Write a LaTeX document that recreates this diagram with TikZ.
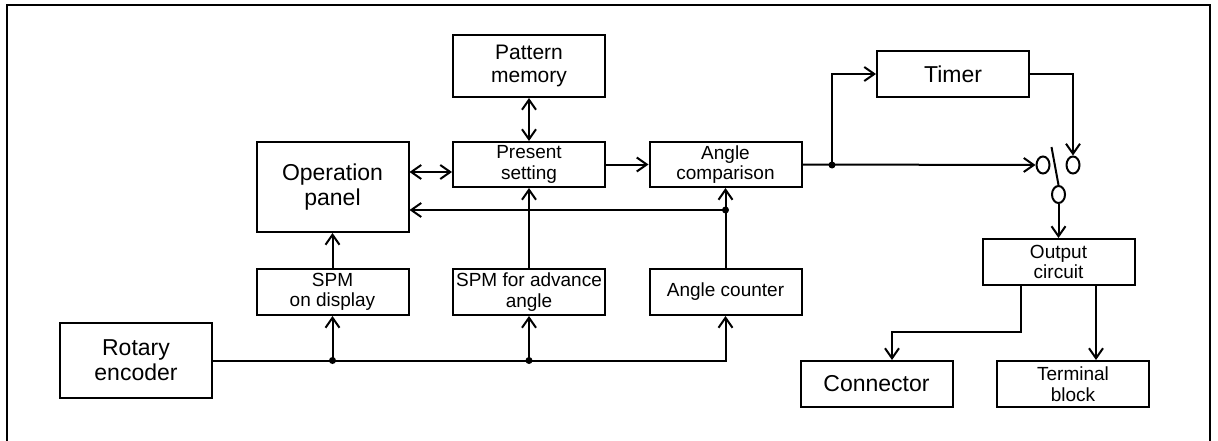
\documentclass[tikz,border=0pt]{standalone}
\usepackage{fontspec}
\setmainfont{Liberation Sans}
\usetikzlibrary{arrows.meta,shapes.geometric}

\tikzset{
  blk/.style={draw, line width=2pt, minimum width=152pt, minimum height=46pt,
    inner sep=0pt, align=center, font=\fontsize{19}{20.5}\selectfont},
  bigtxt/.style={font=\fontsize{23}{25}\selectfont},
  wire/.style={line width=2pt},
  contact/.style={draw, ellipse, line width=2pt, minimum width=13pt,
    minimum height=17pt, inner sep=0pt},
}

\begin{document}
\begin{tikzpicture}[x=1pt, y=-1pt, >={Straight Barb[length=10pt,width=14pt]}]
    \useasboundingbox (0,0) rectangle (1218,441);
    \draw[wire] (7,441) -- (7,5) -- (1210,5) -- (1210,441);

    % blocks
    \node[blk, font=\fontsize{21}{23}\selectfont, minimum height=62pt] (pattern) at (529,66) {Pattern\\memory};
    \node[blk, minimum height=45pt] (present) at (529,164.5) {Present\\setting};
    \node[blk, minimum height=45pt] (anglecmp) at (725.5,164.5) {Angle\\comparison};
    \node[blk, bigtxt, minimum height=90pt] (opanel) at (332.5,187) {Operation\\panel};
    \node[blk] (spmdisp) at (332.5,292) {SPM\\on display};
    \node[blk] (spmadv) at (529,292) {SPM for advance\\angle};
    \node[blk] (anglecnt) at (725.5,292) {Angle counter};
    \node[blk, bigtxt, minimum height=75pt] (encoder) at (136,360.5) {Rotary\\encoder};
    \node[blk, bigtxt] (timer) at (953,74) {Timer};
    \node[blk] (output) at (1058.5,262) {Output\\circuit};
    \node[blk, bigtxt] (connector) at (876.5,384) {Connector};
    \node[blk] (terminal) at (1073,384) {Terminal\\block};

    % switch contacts
    \node[contact] (c1) at (1043,165) {};
    \node[contact] (c2) at (1073,165) {};
    \node[contact] (c3) at (1058.5,194.5) {};

    \coordinate (jdisp) at (spmdisp.south |- encoder.east);
    \coordinate (jadv) at (spmadv.south |- encoder.east);
    \coordinate (jcnt) at (anglecnt.north |- 0,210);
    \coordinate (jcmp) at (832,165);

    \draw[wire, ->] (encoder.east) -- (anglecnt.south |- encoder.east) -- (anglecnt.south);
    \draw[wire, ->] (jdisp) -- (spmdisp.south);
    \draw[wire, ->] (jadv) -- (spmadv.south);
    \draw[wire, ->] (spmdisp) -- (opanel);
    \draw[wire, ->] (spmadv) -- (present);
    \draw[wire, <->] (pattern) -- (present);
    \draw[wire, ->] (anglecnt) -- (anglecmp);
    \draw[wire, ->] (jcnt) -- (opanel.east |- jcnt);
    \draw[wire, <->] (opanel.east |- 0,172) -- (present.west |- 0,172);
    \draw[wire, ->] (present) -- (anglecmp);
    \draw[wire, ->] (anglecmp.east) -- (c1.west);
    \draw[wire, ->] (jcmp) |- (timer.west);
    \draw[wire, ->] (timer.east) -| (c2.north);
    \draw[wire] (c3.north) -- ++(-7,-38);
    \draw[wire, ->] (c3) -- (output);
    \draw[wire, ->] ([xshift=-37.5pt]output.south) -- ++(0,46) -| ([xshift=15.5pt]connector.north);
    \draw[wire, ->] ([xshift=37.5pt]output.south) -- ([xshift=23pt]terminal.north);

    \foreach \j in {jdisp,jadv,jcnt,jcmp}
        \fill (\j) circle (3.5pt);
\end{tikzpicture}
\end{document}
